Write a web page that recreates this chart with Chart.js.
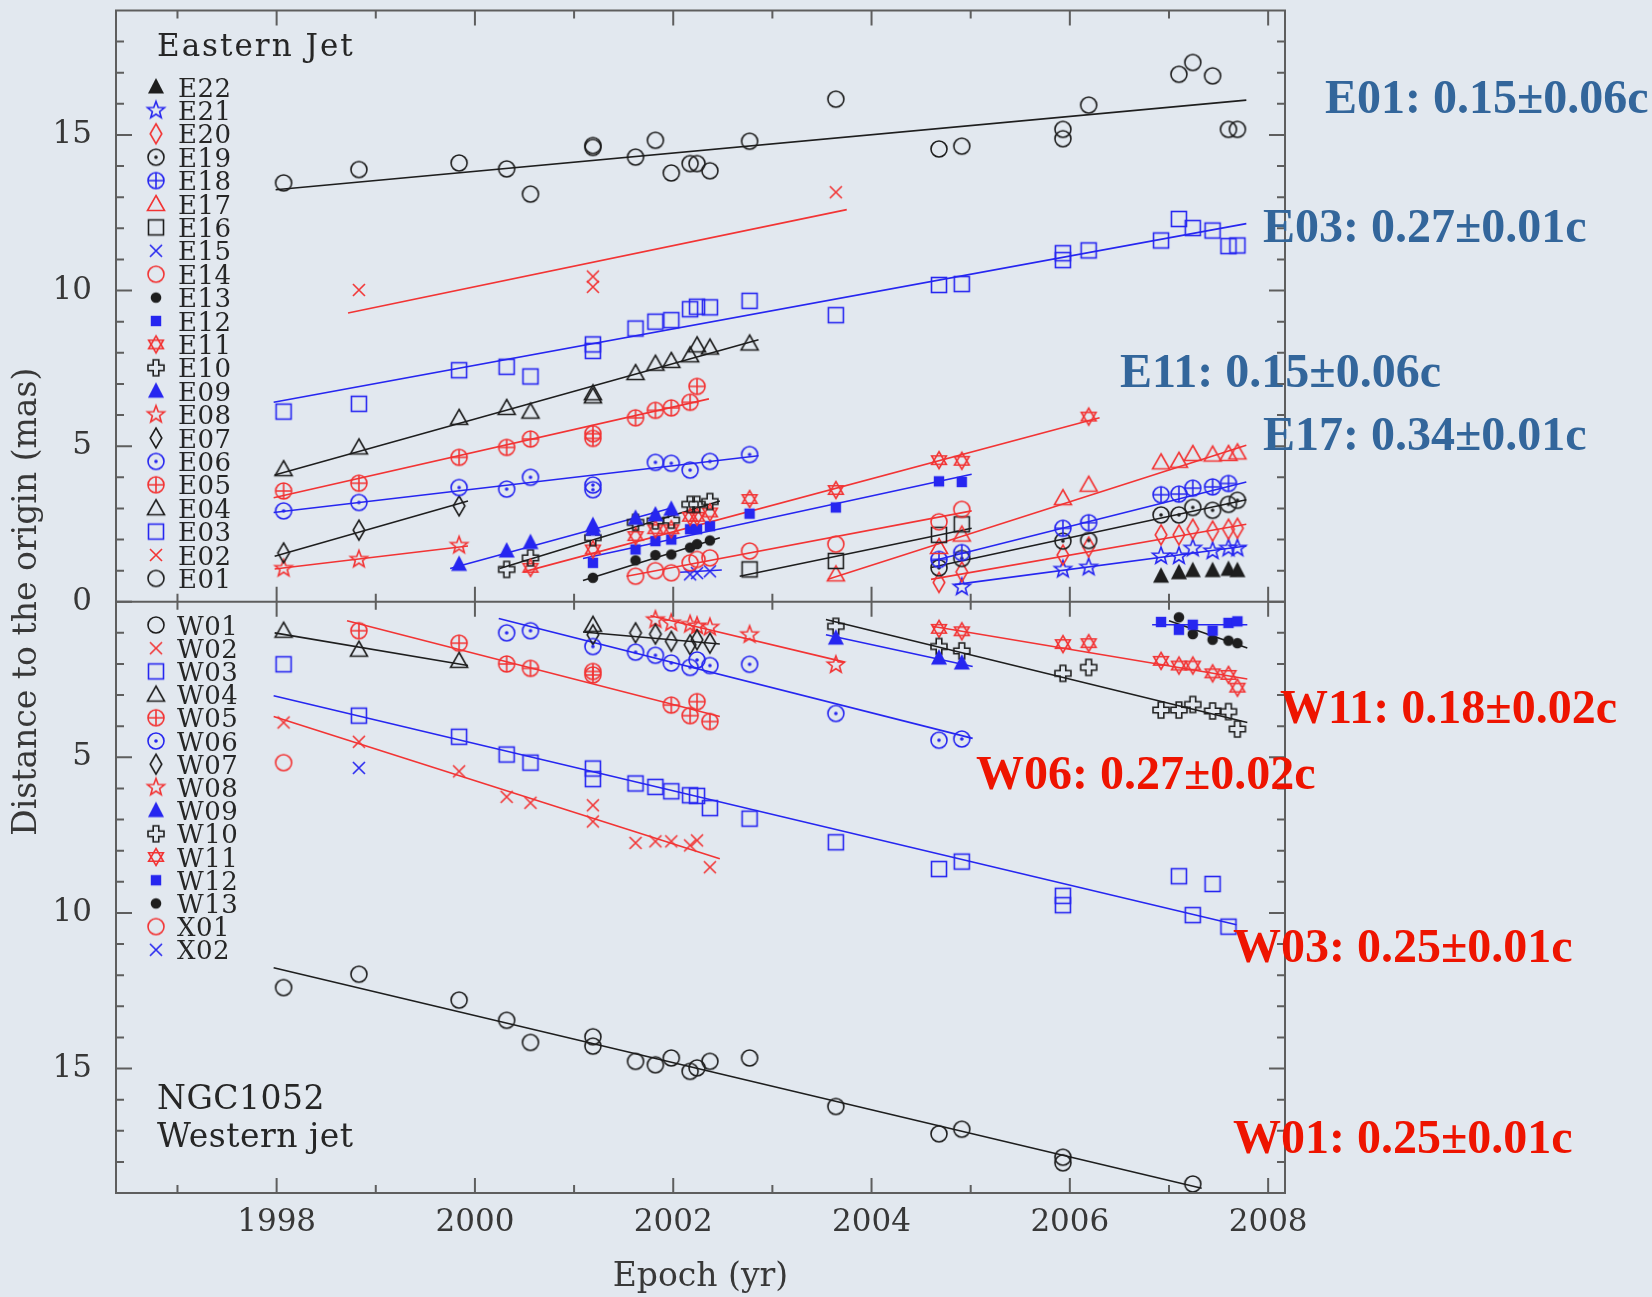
<!DOCTYPE html>
<html>
<head>
<meta charset="utf-8">
<script src="https://cdn.jsdelivr.net/npm/chart.js@4.4.1/dist/chart.umd.min.js"></script>
<style>
  html, body { margin: 0; padding: 0; background: #e2e8ef; }
  canvas { display: block; }
</style>
</head>
<body>
<canvas id="chart" width="1652" height="1297"></canvas>
<script>
// NGC 1052 jet components: [epoch (yr), distance to the origin (mas)]
// ---------- Eastern jet ----------
const E01 = [[1998.07,13.46],[1998.83,13.89],[1999.84,14.10],[2000.32,13.91],[2000.56,13.10],[2001.19,14.60],[2001.19,14.66],[2001.62,14.29],[2001.82,14.83],[2001.98,13.78],[2002.17,14.08],[2002.24,14.08],[2002.37,13.85],[2002.77,14.80],[2003.64,16.15],[2004.68,14.55],[2004.91,14.64],[2005.93,15.18],[2005.93,14.88],[2006.19,15.96],[2007.10,16.95],[2007.24,17.33],[2007.44,16.90],[2007.60,15.18],[2007.69,15.18]];
const E02 = [[1998.83,10.02],[2001.19,10.45],[2001.19,10.12],[2003.64,13.16]];
const E03 = [[1998.07,6.11],[1998.83,6.36],[1999.84,7.44],[2000.32,7.55],[2000.56,7.24],[2001.19,8.27],[2001.19,8.06],[2001.62,8.78],[2001.82,9.00],[2001.98,9.05],[2002.17,9.40],[2002.24,9.48],[2002.37,9.46],[2002.77,9.67],[2003.64,9.21],[2004.68,10.18],[2004.91,10.21],[2005.93,11.20],[2005.93,10.98],[2006.19,11.29],[2006.92,11.61],[2007.10,12.30],[2007.24,12.01],[2007.44,11.93],[2007.60,11.43],[2007.69,11.45]];
const E04 = [[1998.07,4.26],[1998.83,4.96],[1999.84,5.91],[2000.32,6.23],[2000.56,6.11],[2001.19,6.70],[2001.19,6.60],[2001.62,7.35],[2001.82,7.65],[2001.98,7.74],[2002.17,7.92],[2002.24,8.24],[2002.37,8.17],[2002.77,8.30]];
const E05 = [[1998.07,3.56],[1998.83,3.81],[1999.84,4.64],[2000.32,4.96],[2000.56,5.23],[2001.19,5.25],[2001.19,5.40],[2001.62,5.91],[2001.82,6.15],[2001.98,6.23],[2002.17,6.41],[2002.24,6.92]];
const E06 = [[1998.07,2.92],[1998.83,3.19],[1999.84,3.67],[2000.32,3.62],[2000.56,4.00],[2001.19,3.60],[2001.19,3.75],[2001.82,4.48],[2001.98,4.45],[2002.17,4.23],[2002.37,4.51],[2002.77,4.73]];
const E07 = [[1998.07,1.57],[1998.83,2.30],[1999.84,3.08]];
const E08 = [[1998.07,1.07],[1998.83,1.36],[1999.84,1.81]];
const E09 = [[1999.84,1.20],[2000.32,1.63],[2000.56,1.90],[2001.19,2.33],[2001.19,2.45],[2001.62,2.68],[2001.82,2.79],[2001.98,2.97]];
const E10 = [[2000.32,1.04],[2000.56,1.41],[2001.19,2.06],[2001.62,2.55],[2001.82,2.60],[2001.98,2.62],[2002.17,3.13],[2002.24,3.13],[2002.37,3.22]];
const E11 = [[2000.56,1.09],[2001.19,1.68],[2001.62,2.11],[2001.82,2.33],[2001.98,2.33],[2002.17,2.73],[2002.24,2.73],[2002.37,2.87],[2002.77,3.30],[2003.64,3.59],[2004.68,4.55],[2004.91,4.53],[2006.19,5.95]];
const E12 = [[2001.19,1.25],[2001.62,1.68],[2001.82,1.95],[2001.98,2.00],[2002.17,2.33],[2002.24,2.33],[2002.37,2.43],[2002.77,2.83],[2003.64,3.03],[2004.68,3.87],[2004.91,3.85]];
const E13 = [[2001.19,0.77],[2001.62,1.33],[2001.82,1.50],[2001.98,1.52],[2002.17,1.74],[2002.24,1.85],[2002.37,1.97]];
const E14 = [[2001.62,0.82],[2001.82,1.00],[2001.98,0.93],[2002.17,1.25],[2002.24,1.36],[2002.37,1.41],[2002.77,1.63],[2003.64,1.85],[2004.68,2.57],[2004.91,2.97]];
const E15 = [[2002.17,0.88],[2002.24,0.92],[2002.37,0.98]];
const E16 = [[2002.77,1.04],[2003.64,1.31],[2004.68,2.15],[2004.91,2.49]];
const E17 = [[2003.64,0.88],[2004.68,1.76],[2004.91,2.16],[2005.93,3.33],[2006.19,3.76],[2006.92,4.48],[2007.10,4.53],[2007.24,4.75],[2007.44,4.73],[2007.60,4.75],[2007.69,4.80]];
const E18 = [[2004.68,1.36],[2004.91,1.58],[2005.93,2.36],[2006.19,2.54],[2006.92,3.44],[2007.10,3.46],[2007.24,3.65],[2007.44,3.69],[2007.60,3.80]];
const E19 = [[2004.68,1.09],[2004.91,1.39],[2005.93,1.95],[2006.19,1.97],[2006.92,2.79],[2007.10,2.79],[2007.24,3.03],[2007.44,2.94],[2007.60,3.13],[2007.69,3.26]];
const E20 = [[2004.68,0.62],[2004.91,0.96],[2005.93,1.50],[2006.19,1.76],[2006.92,2.15],[2007.10,2.15],[2007.24,2.33],[2007.44,2.27],[2007.60,2.33],[2007.69,2.36]];
const E21 = [[2004.91,0.47],[2005.93,1.04],[2006.19,1.11],[2006.92,1.47],[2007.10,1.47],[2007.24,1.72],[2007.44,1.63],[2007.60,1.72],[2007.69,1.72]];
const E22 = [[2006.92,0.82],[2007.10,0.93],[2007.24,1.00],[2007.44,1.00],[2007.60,1.04],[2007.69,1.00]];

// Linear fits, eastern jet: [start, end] as [epoch, distance]
const E01_fit = [[1997.99,13.24],[2007.78,16.12]];
const E02_fit = [[1998.72,9.28],[2003.75,12.60]];
const E03_fit = [[1997.97,6.41],[2007.78,12.15]];
const E04_fit = [[1997.98,4.07],[2002.86,8.42]];
const E05_fit = [[1997.97,3.34],[2002.36,6.52]];
const E06_fit = [[1997.97,2.87],[2002.86,4.69]];
const E07_fit = [[1997.98,1.46],[1999.93,3.24]];
const E08_fit = [[1997.98,1.05],[1999.93,1.79]];
const E09_fit = [[1999.75,1.07],[2002.00,3.03]];
const E10_fit = [[2000.25,1.07],[2002.47,3.24]];
const E11_fit = [[2000.49,0.96],[2006.30,5.91]];
const E12_fit = [[2001.09,1.39],[2005.01,4.10]];
const E13_fit = [[2001.09,0.68],[2002.47,2.06]];
const E14_fit = [[2001.53,0.82],[2005.01,2.92]];
const E15_fit = [[2002.07,0.95],[2002.49,1.02]];
const E16_fit = [[2002.67,0.82],[2005.01,2.36]];
const E17_fit = [[2003.56,0.72],[2007.78,5.03]];
const E18_fit = [[2004.60,1.30],[2007.78,3.85]];
const E19_fit = [[2004.60,1.10],[2007.78,3.28]];
const E20_fit = [[2004.60,0.72],[2007.78,2.49]];
const E21_fit = [[2004.84,0.55],[2007.78,1.79]];

// ---------- Western jet (distances measured away from the origin) ----------
const W01 = [[1998.07,12.40],[1998.83,11.97],[1999.84,12.80],[2000.32,13.45],[2000.56,14.16],[2001.19,13.98],[2001.19,14.28],[2001.62,14.77],[2001.82,14.88],[2001.98,14.66],[2002.17,15.09],[2002.24,14.98],[2002.37,14.77],[2002.77,14.66],[2003.64,16.22],[2004.68,17.10],[2004.91,16.95],[2005.93,17.85],[2005.93,18.03],[2007.24,18.71]];
const W02 = [[1998.07,3.88],[1998.83,4.50],[1999.84,5.45],[2000.32,6.27],[2000.56,6.46],[2001.19,6.54],[2001.19,7.06],[2001.62,7.75],[2001.82,7.70],[2001.98,7.70],[2002.17,7.83],[2002.24,7.67],[2002.37,8.53]];
const W03 = [[1998.07,2.01],[1998.83,3.66],[1999.84,4.34],[2000.32,4.91],[2000.56,5.17],[2001.19,5.36],[2001.19,5.70],[2001.62,5.84],[2001.82,5.95],[2001.98,6.09],[2002.17,6.22],[2002.24,6.24],[2002.37,6.63],[2002.77,6.97],[2003.64,7.73],[2004.68,8.59],[2004.91,8.35],[2005.93,9.45],[2005.93,9.75],[2007.10,8.82],[2007.24,10.07],[2007.44,9.07],[2007.60,10.44]];
const W04 = [[1998.07,0.93],[1998.83,1.54],[1999.84,1.90],[2001.19,0.74]];
const W05 = [[1998.83,0.93],[1999.84,1.33],[2000.32,2.00],[2000.56,2.14],[2001.19,2.24],[2001.19,2.35],[2001.98,3.32],[2002.17,3.66],[2002.24,3.21],[2002.37,3.85]];
const W06 = [[2000.32,1.00],[2000.56,0.93],[2001.19,1.44],[2001.62,1.62],[2001.82,1.72],[2001.98,1.97],[2002.17,2.11],[2002.24,1.87],[2002.37,2.05],[2002.77,2.01],[2003.64,3.59],[2004.68,4.45],[2004.91,4.41]];
const W07 = [[2001.19,1.06],[2001.62,1.00],[2001.82,1.04],[2001.98,1.27],[2002.17,1.38],[2002.24,1.22],[2002.37,1.33]];
const W08 = [[2001.82,0.58],[2001.98,0.68],[2002.17,0.73],[2002.24,0.78],[2002.37,0.82],[2002.77,1.06],[2003.64,2.03]];
const W09 = [[2003.64,1.17],[2004.68,1.81],[2004.91,1.97]];
const W10 = [[2003.64,0.79],[2004.68,1.44],[2004.91,1.58],[2005.93,2.30],[2006.19,2.11],[2006.92,3.48],[2007.10,3.48],[2007.24,3.30],[2007.44,3.51],[2007.60,3.53],[2007.69,4.09]];
const W11 = [[2004.68,0.87],[2004.91,0.95],[2005.93,1.36],[2006.19,1.33],[2006.92,1.90],[2007.10,2.05],[2007.24,2.05],[2007.44,2.30],[2007.60,2.35],[2007.69,2.76]];
const W12 = [[2006.92,0.65],[2007.10,0.90],[2007.24,0.74],[2007.44,0.93],[2007.60,0.68],[2007.69,0.63]];
const W13 = [[2007.10,0.50],[2007.24,1.04],[2007.44,1.22],[2007.60,1.25],[2007.69,1.33]];
const X01 = [[1998.07,5.17]];
const X02 = [[1998.83,5.34]];

// Linear fits, western jet
const W01_fit = [[1997.97,11.76],[2007.33,18.85]];
const W02_fit = [[1997.97,3.69],[2002.47,8.26]];
const W03_fit = [[1997.97,3.02],[2007.68,10.38]];
const W04_fit = [[1997.98,1.00],[1999.93,2.05]];
const W05_fit = [[1998.71,0.61],[2002.47,3.69]];
const W06_fit = [[2000.24,0.54],[2005.02,4.39]];
const W07_fit = [[2001.09,0.97],[2002.47,1.36]];
const W08_fit = [[2001.77,0.45],[2003.73,1.94]];
const W09_fit = [[2003.54,1.06],[2005.02,2.08]];
const W10_fit = [[2003.54,0.57],[2007.79,3.88]];
const W11_fit = [[2004.61,0.79],[2007.79,2.48]];
const W12_fit = [[2006.83,0.74],[2007.79,0.74]];
const W13_fit = [[2007.00,0.61],[2007.79,1.49]];

const eastNames = ['E01','E02','E03','E04','E05','E06','E07','E08','E09','E10','E11','E12','E13','E14','E15','E16','E17','E18','E19','E20','E21','E22'];
const eastPoints = [E01,E02,E03,E04,E05,E06,E07,E08,E09,E10,E11,E12,E13,E14,E15,E16,E17,E18,E19,E20,E21,E22];
const eastFits = [E01_fit,E02_fit,E03_fit,E04_fit,E05_fit,E06_fit,E07_fit,E08_fit,E09_fit,E10_fit,E11_fit,E12_fit,E13_fit,E14_fit,E15_fit,E16_fit,E17_fit,E18_fit,E19_fit,E20_fit,E21_fit,null];

const westNames = ['W01','W02','W03','W04','W05','W06','W07','W08','W09','W10','W11','W12','W13','X01','X02'];
const westPoints = [W01,W02,W03,W04,W05,W06,W07,W08,W09,W10,W11,W12,W13,X01,X02];
const westFits = [W01_fit,W02_fit,W03_fit,W04_fit,W05_fit,W06_fit,W07_fit,W08_fit,W09_fit,W10_fit,W11_fit,W12_fit,W13_fit,null,null];

const speedNotes = ['E01: 0.15±0.06c','E03: 0.27±0.01c','E11: 0.15±0.06c','E17: 0.34±0.01c','W11: 0.18±0.02c','W06: 0.27±0.02c','W03: 0.25±0.01c','W01: 0.25±0.01c'];
const xTickYears = [1998, 2000, 2002, 2004, 2006, 2008];
const yTickValues = [-15, -10, -5, 0, 5, 10, 15];

// ---------- styles ----------
const RED = 'rgb(242,52,52)';
const BLUE = 'rgb(38,38,240)';
const BLACK = 'rgb(30,30,30)';
const symbolCycle = [
  ['circle', BLACK], ['xmark', RED], ['square', BLUE], ['triangle', BLACK],
  ['circlePlus', RED], ['circleDot', BLUE], ['diamond', BLACK], ['star5', RED],
  ['triangleFill', BLUE], ['greek', BLACK], ['hexagram', RED], ['squareFill', BLUE],
  ['dotFill', BLACK], ['circle', RED], ['xmark', BLUE], ['square', BLACK],
  ['triangle', RED], ['circlePlus', BLUE], ['circleDot', BLACK], ['diamond', RED],
  ['star5', BLUE], ['triangleFill', BLACK]
];

function makeMarker(kind, color) {
  const c = document.createElement('canvas');
  c.width = 28; c.height = 28;
  const g = c.getContext('2d');
  g.translate(14, 14);
  g.strokeStyle = color; g.fillStyle = color;
  g.lineWidth = 1.6; g.lineJoin = 'miter';
  const poly = pts => {
    g.beginPath();
    pts.forEach(([x, y], i) => (i ? g.lineTo(x, y) : g.moveTo(x, y)));
    g.closePath();
  };
  const ring = r => { g.beginPath(); g.arc(0, 0, r, 0, Math.PI * 2); };
  switch (kind) {
    case 'circle': ring(8); g.stroke(); break;
    case 'circleDot': ring(8); g.stroke(); ring(1.8); g.fill(); break;
    case 'circlePlus':
      ring(8); g.stroke();
      g.beginPath(); g.moveTo(-8, 0); g.lineTo(8, 0); g.moveTo(0, -8); g.lineTo(0, 8); g.stroke();
      break;
    case 'square': g.strokeRect(-7.5, -7.5, 15, 15); break;
    case 'squareFill': g.fillRect(-5.2, -5.2, 10.4, 10.4); break;
    case 'triangle': poly([[0, -8.5], [8.5, 6.5], [-8.5, 6.5]]); g.stroke(); break;
    case 'triangleFill': poly([[0, -9], [8, 6.5], [-8, 6.5]]); g.fill(); break;
    case 'diamond': poly([[0, -10], [5.8, 0], [0, 10], [-5.8, 0]]); g.stroke(); break;
    case 'star5': {
      const p = [];
      for (let k = 0; k < 10; k++) {
        const r = k % 2 ? 3.8 : 9;
        const a = -Math.PI / 2 + k * Math.PI / 5;
        p.push([r * Math.cos(a), r * Math.sin(a)]);
      }
      poly(p); g.stroke(); break;
    }
    case 'hexagram': {
      const r = 8.5;
      poly([[0, -r], [r * 0.866, r / 2], [-r * 0.866, r / 2]]); g.stroke();
      poly([[0, r], [r * 0.866, -r / 2], [-r * 0.866, -r / 2]]); g.stroke();
      break;
    }
    case 'greek': {
      const a = 2.8, b = 8;
      poly([[-a, -b], [a, -b], [a, -a], [b, -a], [b, a], [a, a], [a, b], [-a, b], [-a, a], [-b, a], [-b, -a], [-a, -a]]);
      g.stroke(); break;
    }
    case 'xmark':
      g.beginPath(); g.moveTo(-6, -6); g.lineTo(6, 6); g.moveTo(-6, 6); g.lineTo(6, -6); g.stroke();
      break;
    case 'dotFill': ring(5.3); g.fill(); break;
  }
  return c;
}

const markers = symbolCycle.map(([kind, color]) => makeMarker(kind, color));

// ---------- datasets ----------
const datasets = [];
function addGroup(names, pointSets, fits, sign) {
  names.forEach((name, i) => {
    const color = symbolCycle[i][1];
    if (fits[i]) {
      datasets.push({
        type: 'line', label: name + ' fit', order: 2,
        data: fits[i].map(([t, d]) => ({ x: t, y: sign * d })),
        borderColor: color, borderWidth: 1.6, pointRadius: 0, fill: false, tension: 0
      });
    }
    datasets.push({
      type: 'scatter', label: name, order: 1,
      data: pointSets[i].map(([t, d]) => ({ x: t, y: sign * d })),
      pointStyle: markers[i], pointRadius: 8, showLine: false
    });
  });
}
addGroup(eastNames, eastPoints, eastFits, 1);
addGroup(westNames, westPoints, westFits, -1);

// ---------- frame, inward ticks and the zero line ----------
const framePlugin = {
  id: 'frame',
  afterDatasetsDraw(chart) {
    const { ctx, chartArea: { left, right, top, bottom } } = chart;
    const xs = chart.scales.x, ys = chart.scales.y;
    const y0 = ys.getPixelForValue(0);
    ctx.save();
    ctx.strokeStyle = '#5e5e5e';
    ctx.lineWidth = 2;
    ctx.strokeRect(left, top, right - left, bottom - top);
    ctx.beginPath(); ctx.moveTo(left, y0); ctx.lineTo(right, y0); ctx.stroke();
    ctx.beginPath();
    for (let yr = Math.ceil(xs.min); yr <= Math.floor(xs.max); yr++) {
      const px = xs.getPixelForValue(yr);
      const len = yr % 2 === 0 ? 15 : 8;
      ctx.moveTo(px, bottom); ctx.lineTo(px, bottom - len);
      ctx.moveTo(px, top); ctx.lineTo(px, top + len);
      ctx.moveTo(px, y0 - len); ctx.lineTo(px, y0 + len);
    }
    for (let v = Math.ceil(ys.min) + 1; v < ys.max; v++) {
      const py = ys.getPixelForValue(v);
      const len = v % 5 === 0 ? 16 : 8;
      ctx.moveTo(left, py); ctx.lineTo(left + len, py);
      ctx.moveTo(right, py); ctx.lineTo(right - len, py);
    }
    ctx.stroke();
    ctx.restore();
  }
};

// ---------- in-plot keys and velocity labels ----------
const keyPlugin = {
  id: 'keys',
  afterDraw(chart) {
    const ctx = chart.ctx;
    const spacing = px => { if ('letterSpacing' in ctx) ctx.letterSpacing = px; };
    ctx.save();
    ctx.fillStyle = '#262626';
    ctx.textBaseline = 'alphabetic';
    ctx.textAlign = 'left';

    ctx.font = '31px "DejaVu Serif"';
    spacing('2px');
    ctx.fillText('Eastern Jet', 157, 56);

    ctx.font = '26px "DejaVu Serif"';
    spacing('0.5px');
    const eastRows = eastNames.slice().reverse();
    eastRows.forEach((name, k) => {
      const i = eastNames.indexOf(name);
      const y = 87 + k * 23.4;
      ctx.drawImage(markers[i], 156 - 14, y - 14);
      ctx.fillText(name, 178, y + 9.5);
    });
    westNames.forEach((name, i) => {
      const y = 625 + i * 23.2;
      ctx.drawImage(markers[i], 156 - 14, y - 14);
      ctx.fillText(name, 177, y + 9.5);
    });

    ctx.font = '33px "DejaVu Serif"';
    spacing('0.5px');
    ctx.fillText('NGC1052', 157, 1109);
    ctx.fillText('Western jet', 157, 1147);
    spacing('0px');

    const noteSpots = [
      [1325, 113, '#33669b'], [1263, 242, '#33669b'], [1120, 387, '#33669b'], [1263, 450, '#33669b'],
      [1280, 723, '#ee1400'], [976, 789, '#ee1400'], [1233, 962, '#ee1400'], [1233, 1153, '#ee1400']
    ];
    ctx.font = 'bold 48px "Liberation Serif"';
    speedNotes.forEach((txt, i) => {
      const [x, y, col] = noteSpots[i];
      ctx.fillStyle = col;
      ctx.fillText(txt, x, y);
    });
    ctx.restore();
  }
};

const bgPlugin = {
  id: 'bg',
  beforeDraw(chart) {
    const { ctx, width, height } = chart;
    ctx.save();
    ctx.fillStyle = '#e2e8ef';
    ctx.fillRect(0, 0, width, height);
    ctx.restore();
  }
};

const axisFont = { family: 'DejaVu Serif', size: 31 };
const titleFont = { family: 'DejaVu Serif', size: 33 };

new Chart(document.getElementById('chart'), {
  type: 'scatter',
  data: { datasets },
  options: {
    responsive: false,
    animation: false,
    devicePixelRatio: 1,
    layout: { padding: { left: 0, right: 367, top: 10.5, bottom: 0 } },
    plugins: { legend: { display: false }, tooltip: { enabled: false } },
    scales: {
      x: {
        type: 'linear', position: 'bottom', min: 1996.38, max: 2008.17,
        grid: { display: false, drawTicks: false }, border: { display: false },
        afterBuildTicks: s => { s.ticks = xTickYears.map(v => ({ value: v })); },
        ticks: { font: axisFont, color: '#383838', padding: 11, maxRotation: 0, autoSkip: false, callback: v => String(v) },
        title: { display: true, text: 'Epoch (yr)', font: titleFont, color: '#383838', padding: { top: 0, bottom: 0 } },
        afterFit: s => { s.height = 104; s.paddingLeft = 0; s.paddingRight = 0; }
      },
      y: {
        type: 'linear', position: 'left', min: -19, max: 19,
        grid: { display: false, drawTicks: false }, border: { display: false },
        afterBuildTicks: s => { s.ticks = yTickValues.map(v => ({ value: v })); },
        ticks: { font: axisFont, color: '#383838', padding: 24, autoSkip: false, callback: v => String(Math.abs(v)) },
        title: { display: true, text: 'Distance to the origin (mas)', font: titleFont, color: '#383838', padding: { top: 8, bottom: 0 } },
        afterFit: s => { s.width = 116; s.paddingTop = 0; s.paddingBottom = 0; }
      }
    }
  },
  plugins: [bgPlugin, framePlugin, keyPlugin]
});
</script>
</body>
</html>
